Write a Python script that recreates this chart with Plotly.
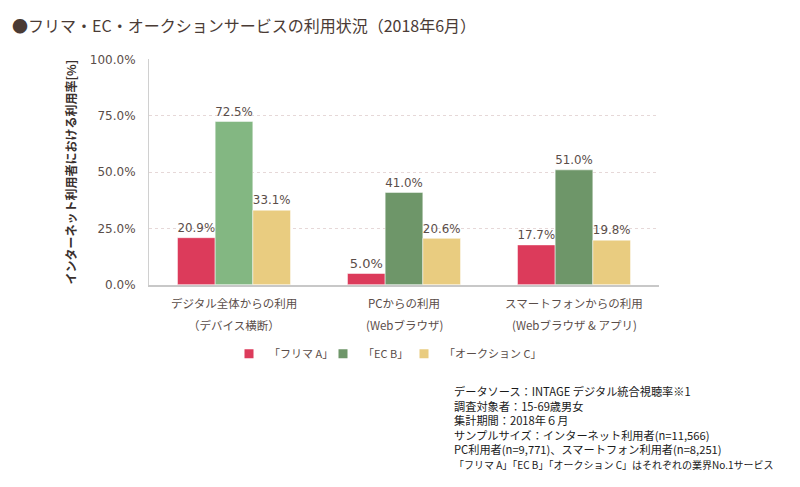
import plotly.graph_objects as go

categories = ["デジタル全体からの利用", "PCからの利用", "スマートフォンからの利用"]
categories_sub = ["（デバイス横断）", "(Webブラウザ)", "(Webブラウザ & アプリ)"]
series_names = ["「フリマ A」", "「EC B」", "「オークション C」"]
furima_a = [20.9, 5.0, 17.7]
ec_b = [72.5, 41.0, 51.0]
auction_c = [33.1, 20.6, 19.8]
y_ticks = [0, 25, 50, 75, 100]
y_tick_labels = ["0.0%", "25.0%", "50.0%", "75.0%", "100.0%"]
title_text = "●フリマ・EC・オークションサービスの利用状況（2018年6月）"
y_title = "インターネット利用者における利用率[%]"
footnote = [
    "データソース：INTAGE デジタル統合視聴率※1",
    "調査対象者：15-69歳男女",
    "集計期間：2018年６月",
    "サンプルサイズ：インターネット利用者(n=11,566)",
    "PC利用者(n=9,771)、スマートフォン利用者(n=8,251)",
    "「フリマ A」「EC B」「オークション C」はそれぞれの業界No.1サービス",
]

RED = "#dc3b5b"
GREEN_L = "#83b782"
GREEN_D = "#6e9669"
YELLOW = "#e9cc80"
TXT = "#5a4d49"
JP = "Noto Sans CJK JP"
NUM = "DejaVu Sans"

W, H = 800, 487

fig = go.Figure()
series_vals = [furima_a, ec_b, auction_c]
series_colors = [[RED] * 3, [GREEN_L, GREEN_D, GREEN_D], [YELLOW] * 3]
legend_colors = [RED, GREEN_D, YELLOW]
legend_ids = ["legend", "legend2", "legend3"]
legend_square_x = [248, 342, 423]

for name, vals, cols in zip(series_names, series_vals, series_colors):
    fig.add_trace(go.Bar(
        x=categories, y=vals, name=name,
        marker=dict(color=cols, line=dict(color="rgba(255,255,255,0.5)", width=1)),
        text=[f"{v:.1f}%" for v in vals], textposition="outside",
        textfont=dict(family=NUM, size=13, color=TXT),
        cliponaxis=False, showlegend=False,
    ))

for name, col, lid in zip(series_names, legend_colors, legend_ids):
    fig.add_trace(go.Scatter(
        x=[None], y=[None], mode="markers", name=name, legend=lid,
        marker=dict(symbol="square", size=9, color=col),
    ))

annotations = []
for cat, sub in zip(categories, categories_sub):
    annotations.append(dict(x=cat, xref="x", y=1 - 305 / H, yref="paper",
                            text=cat, showarrow=False, xanchor="center", yanchor="middle",
                            font=dict(family=JP, size=11.5, color=TXT)))
    annotations.append(dict(x=cat, xref="x", y=1 - 327 / H, yref="paper",
                            text=sub, showarrow=False, xanchor="center", yanchor="middle",
                            font=dict(family=JP, size=11.5, color=TXT)))

foot_lines = footnote[:-1] + [f"<span style='font-size:10px'>{footnote[-1]}</span>"]
annotations.append(dict(x=452 / W, xref="paper", y=1 - 432.5 / H, yref="paper",
                        text="<br>".join(foot_lines), showarrow=False, align="left",
                        xanchor="left", yanchor="middle",
                        font=dict(family=JP, size=11.2, color="#1a1a1a")))

annotations.append(dict(x=10 / W, xref="paper", y=1 - 19 / H, yref="paper",
                        text=title_text, showarrow=False, xanchor="left", yanchor="middle",
                        font=dict(family=JP, size=16, color="#4a3b35")))

legend_common = dict(orientation="h", xanchor="left", y=1 - 357 / H, yanchor="middle",
                     font=dict(family=JP, size=11, color=TXT), itemwidth=30,
                     bgcolor="rgba(0,0,0,0)")

layout_legends = {}
for lid, sx in zip(legend_ids, legend_square_x):
    layout_legends[lid] = dict(legend_common, x=(sx - 19) / W)

fig.update_layout(
    width=W, height=H,
    margin=dict(l=0, r=0, t=0, b=0),
    paper_bgcolor="white", plot_bgcolor="white",
    barmode="group", bargap=0.335, bargroupgap=0,
    xaxis=dict(domain=[149 / W, 659 / W], showticklabels=False, ticks="",
               showline=True, linecolor="#c8c8c8", linewidth=1.5, showgrid=False,
               zeroline=False),
    yaxis=dict(domain=[1 - 286 / H, 1 - 54 / H], range=[0, 100],
               tickvals=y_ticks, ticktext=y_tick_labels,
               tickfont=dict(family=NUM, size=12, color=TXT),
               ticklabelstandoff=10,
               showline=True, linecolor="#d0d0d0", linewidth=1,
               showgrid=True, gridcolor="#e6d8d8", griddash="dot", gridwidth=1,
               zeroline=False,
               title=dict(text=y_title, standoff=10,
                          font=dict(family=JP, size=12, color="#3a302d", weight="bold"))),
    annotations=annotations,
    **layout_legends,
)

fig.write_html("out.html")
